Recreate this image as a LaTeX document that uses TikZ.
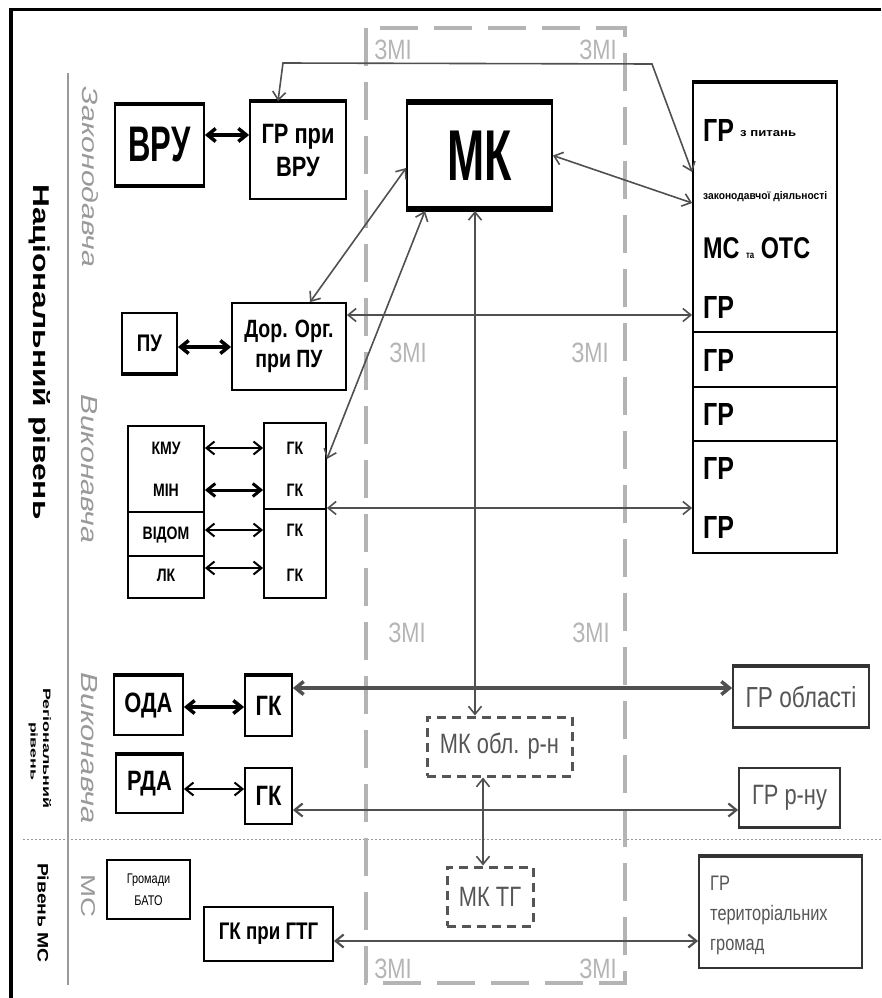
\documentclass[tikz,border=0pt]{standalone}
\usepackage{fontspec}
\usepackage{graphicx}
\setmainfont{Liberation Sans}[FakeStretch=0.78]
\newfontfamily\condfont{Liberation Sans}[FakeStretch=0.62]
\usetikzlibrary{arrows.meta,calc}
\definecolor{conncol}{HTML}{505050}
\definecolor{zmicol}{HTML}{B4B4B4}
\definecolor{lblcol}{HTML}{999999}
\definecolor{dashcol}{HTML}{555555}
\definecolor{greytext}{HTML}{555555}
\begin{document}
\begin{tikzpicture}[x=1pt,y=-1pt,
  box/.style={draw=black, line width=1.8pt, inner sep=0pt, align=center},
  graybox/.style={draw=black!80, line width=1.8pt, inner sep=0pt, align=center, text=greytext},
  dbox/.style={draw=dashcol, line width=3pt, dash pattern=on 9pt off 6pt, inner sep=0pt, align=center, text=dashcol},
  conn/.style={draw=conncol, line width=1.6pt, {Straight Barb[length=8pt,width=13pt]}-{Straight Barb[length=8pt,width=13pt]}},
  connthick/.style={conn, line width=3.5pt},
  blk/.style={draw=black, line width=2pt, {Straight Barb[length=8pt,width=13pt]}-{Straight Barb[length=8pt,width=13pt]}},
  blkthick/.style={blk, line width=3.5pt},
  zmi/.style={text=zmicol, inner sep=0pt, font=\fontsize{28}{28}\selectfont},
  lbl/.style={inner sep=0pt, rotate=-90},
  txt/.style={inner sep=0pt, anchor=west},
  topline/.style={line width=4.5pt, line cap=butt}
]
\useasboundingbox (0,0) rectangle (881,998);
% frame and guides
\draw[line width=3pt] (9,10) -- (881,10);
\draw[line width=4pt] (11,8) -- (11,998);
\draw[black!40, line width=1.2pt] (68,73) -- (68,985);
\draw[lblcol, line width=1pt, dash pattern=on 1.5pt off 2.5pt] (23,839) -- (881,839);
% ZMI area
\draw[zmicol, line width=4pt, dash pattern=on 38pt off 16pt] (366,28) rectangle (625,983);
\node[zmi] (z1) at (393,50) {ЗМІ};
\node[zmi] (z2) at (598,50) {ЗМІ};
\node[zmi] (z3) at (408,353) {ЗМІ};
\node[zmi] (z4) at (590,353) {ЗМІ};
\node[zmi] (z5) at (407,633) {ЗМІ};
\node[zmi] (z6) at (591,633) {ЗМІ};
\node[zmi] (z7) at (393,969) {ЗМІ};
\node[zmi] (z8) at (598,969) {ЗМІ};
% rotated labels
\node[lbl] (natl) at (40,352) {\resizebox{335pt}{17pt}{\bfseries Національний рівень}};
\node[lbl, text=lblcol] (zak) at (90,177) {\resizebox{180pt}{16pt}{\itshape Законодавча}};
\node[lbl, text=lblcol] (vyk1) at (89,469) {\resizebox{148pt}{16pt}{\itshape Виконавча}};
\node[lbl, text=lblcol] (vyk2) at (89,748) {\resizebox{151pt}{16pt}{\itshape Виконавча}};
\node[lbl, text=lblcol] (msl) at (88,896) {\resizebox{43pt}{14pt}{МС}};
\node[lbl] (reg1) at (47,748) {\resizebox{120pt}{8pt}{\bfseries Регіональний}};
\node[lbl] (reg2) at (33,751) {\resizebox{58pt}{7pt}{\bfseries рівень}};
\node[lbl] (rms) at (43,913) {\resizebox{100pt}{11pt}{\bfseries Рівень МС}};
% boxes national
\node[box, minimum width=89pt, minimum height=80pt, font=\condfont\bfseries\fontsize{50}{50}\selectfont] (vru) at (159.5,145) {ВРУ};
\node[box, minimum width=96pt, minimum height=97pt, font=\bfseries\fontsize{28}{33}\selectfont] (grvru) at (298,150.5) {ГР при\\ВРУ};
\node[box, minimum width=145pt, minimum height=105pt, font=\condfont\bfseries\fontsize{72}{72}\selectfont] (mk) at (479.5,155.5) {МК};
\node[box, minimum width=144pt, minimum height=470pt] (rbox) at (765,318) {};
\node[box, minimum width=55pt, minimum height=60pt, font=\bfseries\fontsize{24}{24}\selectfont] (pu) at (149.5,343) {ПУ};
\node[box, minimum width=114pt, minimum height=87pt, font=\bfseries\fontsize{25}{30}\selectfont] (dor) at (289,346.5) {Дор. Орг.\\при ПУ};
\node[box, minimum width=76pt, minimum height=172pt] (lstack) at (166,512) {};
\node[box, minimum width=62pt, minimum height=175pt] (gkstack) at (295,510.5) {};
% thick edges
\draw[topline] (vru.north west) -- (vru.north east);
\draw[topline] (vru.south west) -- (vru.south east);
\draw[topline] (grvru.north west) -- (grvru.north east);
\draw[line width=5.5pt] (mk.north west) -- (mk.north east);
\draw[line width=5.5pt] (mk.south west) -- (mk.south east);
\draw[line width=3.5pt] (rbox.north west) -- (rbox.north east);
\draw[topline] (pu.south west) -- (pu.south east);
% right box dividers
\draw[line width=1.8pt] ([yshift=-14pt]rbox.west) -- ([yshift=-14pt]rbox.east);
\draw[line width=1.8pt] ([yshift=-69pt]rbox.west) -- ([yshift=-69pt]rbox.east);
\draw[line width=1.8pt] ([yshift=-123pt]rbox.west) -- ([yshift=-123pt]rbox.east);
% right box texts
\node[txt, font=\bfseries\fontsize{32}{32}\selectfont] (rb1) at (703,130) {ГР};
\node[txt] (rb1s) at (740,134) {\resizebox{56pt}{6pt}{\bfseries з питань}};
\node[txt] (rb2) at (703,197) {\resizebox{124pt}{8pt}{\bfseries законодавчої діяльності}};
\node[txt, font=\bfseries\fontsize{30}{30}\selectfont] (rb3) at (703,248) {МС {\fontsize{10}{10}\selectfont та} ОТС};
\node[txt, font=\bfseries\fontsize{32}{32}\selectfont] (rb4) at (703,307) {ГР};
\node[txt, font=\bfseries\fontsize{32}{32}\selectfont] (rb5) at (703,360) {ГР};
\node[txt, font=\bfseries\fontsize{32}{32}\selectfont] (rb6) at (703,414) {ГР};
\node[txt, font=\bfseries\fontsize{32}{32}\selectfont] (rb7) at (703,468) {ГР};
\node[txt, font=\bfseries\fontsize{32}{32}\selectfont] (rb8) at (703,527) {ГР};
% stacks
\draw[line width=1.8pt] ([yshift=-44pt]lstack.west) -- ([yshift=-44pt]lstack.east);
\draw[line width=1.8pt] (lstack.west) -- (lstack.east);
\draw[line width=1.8pt] ([yshift=1.5pt]gkstack.west) -- ([yshift=1.5pt]gkstack.east);
\node[inner sep=0pt, font=\bfseries\fontsize{18}{18}\selectfont] (kmu) at (166,448) {КМУ};
\node[inner sep=0pt, font=\bfseries\fontsize{18}{18}\selectfont] (min) at (166,490) {МІН};
\node[inner sep=0pt, font=\bfseries\fontsize{18}{18}\selectfont] (vid) at (166,535) {ВІДОМ};
\node[inner sep=0pt, font=\bfseries\fontsize{18}{18}\selectfont] (lk) at (166,575) {ЛК};
\node[inner sep=0pt, font=\bfseries\fontsize{18}{18}\selectfont] (gk1) at (295,448) {ГК};
\node[inner sep=0pt, font=\bfseries\fontsize{18}{18}\selectfont] (gk2) at (295,490) {ГК};
\node[inner sep=0pt, font=\bfseries\fontsize{18}{18}\selectfont] (gk3) at (295,530) {ГК};
\node[inner sep=0pt, font=\bfseries\fontsize{18}{18}\selectfont] (gk4) at (295,575) {ГК};
% regional and local boxes
\node[box, minimum width=69pt, minimum height=59pt, font=\bfseries\fontsize{28}{28}\selectfont] (oda) at (148.5,705.5) {ОДА};
\node[box, minimum width=47pt, minimum height=60pt, font=\bfseries\fontsize{28}{28}\selectfont] (gkoda) at (268.5,706) {ГК};
\node[box, minimum width=67pt, minimum height=58pt, font=\bfseries\fontsize{28}{28}\selectfont] (rda) at (149.5,784) {РДА};
\node[box, minimum width=47pt, minimum height=56pt, font=\bfseries\fontsize{28}{28}\selectfont] (gkrda) at (268.5,796) {ГК};
\node[box, minimum width=83pt, minimum height=59pt, font=\fontsize{14}{22}\selectfont] (bato) at (148.5,889.5) {Громади\\БАТО};
\node[box, minimum width=129pt, minimum height=54pt, font=\bfseries\fontsize{24}{24}\selectfont] (gkgtg) at (268.5,934) {ГК при ГТГ};
\draw[topline] (oda.north west) -- (oda.north east);
\draw[topline] (gkoda.north west) -- (gkoda.north east);
\draw[topline] (rda.north west) -- (rda.north east);
\node[dbox, minimum width=145pt, minimum height=59pt, font=\fontsize{28}{28}\selectfont] (mkobl) at (499.5,746.5) {МК обл. р-н};
\node[dbox, minimum width=86pt, minimum height=59pt, font=\fontsize{28}{28}\selectfont] (mktg) at (490,896.5) {МК ТГ};
\node[graybox, minimum width=136pt, minimum height=60pt, font=\fontsize{29}{29}\selectfont] (grobl) at (801,697) {ГР області};
\node[graybox, minimum width=101pt, minimum height=59pt, font=\fontsize{28}{28}\selectfont] (grrnu) at (789.5,797.5) {ГР р-ну};
\node[graybox, minimum width=163pt, minimum height=111pt] (grtg) at (780.5,912.5) {};
\node[txt, align=left, text=greytext, font=\fontsize{21}{30}\selectfont] (grtgt) at (710,915) {ГР\\територіальних\\громад};
\draw[topline, black!80] (grobl.north west) -- (grobl.north east);
\draw[line width=3pt, black!80] (grobl.south west) -- (grobl.south east);
\draw[line width=3pt, black!80] (grrnu.south west) -- (grrnu.south east);
\draw[topline, black!80] (grtg.north west) -- (grtg.north east);
% black short arrows
\draw[blkthick] ([yshift=10pt]vru.east) -- ([yshift=10pt]vru.east -| grvru.west);
\draw[blkthick] ([yshift=-4pt]pu.east) -- ([yshift=-4pt]pu.east -| dor.west);
\draw[blk] ([yshift=64pt]lstack.east) -- ([yshift=64pt]lstack.east -| gkstack.west);
\draw[blkthick, line width=3pt] ([yshift=22pt]lstack.east) -- ([yshift=22pt]lstack.east -| gkstack.west);
\draw[blk] ([yshift=-18pt]lstack.east) -- ([yshift=-18pt]lstack.east -| gkstack.west);
\draw[blk] ([yshift=-56pt]lstack.east) -- ([yshift=-56pt]lstack.east -| gkstack.west);
\draw[blkthick] ([yshift=-1.5pt]oda.east) -- ([yshift=-1.5pt]oda.east -| gkoda.west);
\draw[blk] ([yshift=-5pt]rda.east) -- ([yshift=-5pt]rda.east -| gkrda.west);
% gray connectors
\draw[conn] ([xshift=-20pt]grvru.north) -- (283,63) -- (652,64) -- ([yshift=146pt]rbox.west);
\draw[conn] (mk.east) -- ([yshift=115pt]rbox.west);
\draw[conn] ([yshift=-12.5pt]mk.west) -- ([xshift=21pt]dor.north);
\draw[conn] ([xshift=-54.5pt,yshift=-2pt]mk.south) -- ([yshift=51.5pt]gkstack.east);
\draw[conn] ([xshift=-4.5pt,yshift=-2pt]mk.south) -- ([xshift=-4.5pt]mk.south |- mkobl.north);
\draw[conn] ([yshift=31.5pt]dor.east) -- ([yshift=31.5pt]dor.east -| rbox.west);
\draw[conn] ([yshift=2.5pt]gkstack.east) -- ([yshift=2.5pt]gkstack.east -| rbox.west);
\draw[connthick] ([yshift=18pt]gkoda.east) -- ([yshift=18pt]gkoda.east -| grobl.west);
\draw[conn, line width=2.2pt] ([yshift=-14pt]gkrda.east) -- ([yshift=-14pt]gkrda.east -| grrnu.west);
\draw[conn] ([xshift=-16.5pt]mkobl.south) -- ([xshift=-16.5pt]mkobl.south |- mktg.north);
\draw[conn, line width=2.2pt] ([yshift=-7pt]gkgtg.east) -- ([yshift=-7pt]gkgtg.east -| grtg.west);
\end{tikzpicture}
\end{document}
